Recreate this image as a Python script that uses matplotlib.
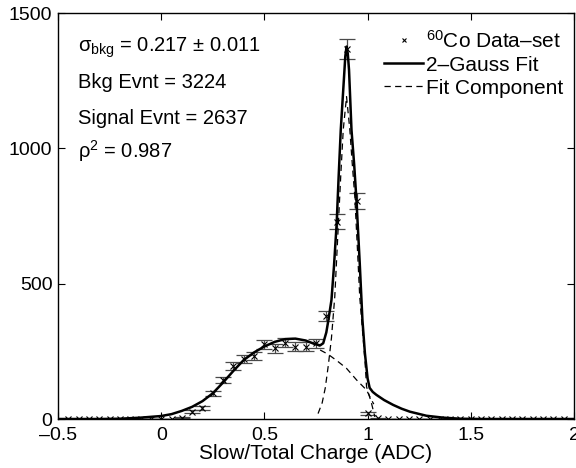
import numpy as np
import matplotlib
matplotlib.use('Agg')
import matplotlib.pyplot as plt
from matplotlib.lines import Line2D

plt.rcParams['font.family'] = ['Liberation Sans', 'DejaVu Sans']
plt.rcParams['mathtext.fontset'] = 'custom'
plt.rcParams['mathtext.rm'] = 'Liberation Sans'
plt.rcParams['mathtext.it'] = 'Liberation Sans:italic'
plt.rcParams['mathtext.bf'] = 'Liberation Sans:bold'

# histogram of the 60Co data set (bin centres every 0.05)
bin_centres = np.round(np.arange(-0.45, 1.951, 0.05), 3)
counts = [0, 0, 0, 0, 0, 0, 0, 0, 0, 0, 0,
          5, 27, 40, 95, 144, 196, 220, 233, 277, 261,
          281, 267, 267, 280, 380, 729, 1367, 805, 21, 3,
          0, 0, 0, 0, 0, 0, 0, 0, 0, 0, 0, 0, 0, 0, 0, 0, 0, 0]

# 2-Gauss fit
fit_x = [-0.5, -0.3, -0.2, -0.1, 0.0, 0.05, 0.1, 0.15, 0.2, 0.25, 0.3, 0.35,
         0.4, 0.45, 0.5, 0.55, 0.6, 0.65, 0.7, 0.74, 0.77, 0.785, 0.8, 0.81,
         0.825, 0.837, 0.85, 0.86, 0.87, 0.885, 0.892, 0.898, 0.904, 0.91,
         0.922, 0.935, 0.946, 0.962, 0.975, 0.987, 1.0, 1.01, 1.025, 1.043,
         1.08, 1.124, 1.165, 1.205, 1.285, 1.366, 1.45, 1.55, 2.0]
fit_y = [0, 0, 1, 5, 11, 18, 30, 45, 66, 95, 135, 178,
         218, 246, 268, 285, 295, 297, 290, 278, 272, 280, 320, 365,
         440, 563, 720, 900, 1068, 1253, 1340, 1376, 1350, 1290,
         1068, 940, 809, 575, 366, 243, 150, 115, 100, 89,
         70, 52, 38, 27, 12, 5, 1, 0, 0]

# signal component
sig_x = [0.76, 0.78, 0.795, 0.81, 0.825, 0.841, 0.857, 0.87, 0.882, 0.898,
         0.914, 0.925, 0.938, 0.95, 0.962, 0.975, 0.987, 0.995, 1.019, 1.035]
sig_y = [20, 60, 115, 200, 300, 452, 698, 900, 1068, 1191,
         1068, 950, 821, 640, 450, 330, 218, 119, 58, 8]

# background component
bkg_x = [0.77, 0.809, 0.857, 0.898, 0.947, 0.995, 1.019, 1.03]
bkg_y = [255, 239, 212, 187, 144, 107, 70, 55]

fig = plt.figure(figsize=(5.76, 4.68), dpi=100)
ax = fig.add_axes([0.1007, 0.1047, 0.8958, 0.8675])

errs = np.sqrt(counts)
ax.errorbar(bin_centres, counts, yerr=errs, fmt='none', ecolor='#4a4a4a',
            elinewidth=0.9, capsize=6, capthick=0.9, zorder=2)
ax.plot(bin_centres, counts, 'x', color='black', ms=4, mew=0.8, zorder=4)
ax.plot(fit_x, fit_y, '-', color='black', lw=1.8, zorder=3)
ax.plot(sig_x, sig_y, '--', color='black', lw=0.9, dashes=(5, 3.5), zorder=3)
ax.plot(bkg_x, bkg_y, '--', color='black', lw=0.9, dashes=(5, 3.5), zorder=3)

ax.set_xlim(-0.5, 2)
ax.set_ylim(0, 1500)
ax.set_xticks([-0.5, 0, 0.5, 1, 1.5, 2])
ax.set_xticklabels(['\u20130.5', '0', '0.5', '1', '1.5', '2'])
ax.set_yticks([0, 500, 1000, 1500])
ax.tick_params(direction='in', top=True, right=True, length=5, width=0.8,
               labelsize=14)
ax.tick_params(axis='x', pad=6)
ax.tick_params(axis='y', pad=4)
for s in ax.spines.values():
    s.set_linewidth(1.0)
ax.set_xlabel('Slow/Total Charge (ADC)', fontsize=15, labelpad=0)

txt_size = 14.5
ax.text(0.039, 0.904, '\u03c3$_{\\rm bkg}$ = 0.217 \u00b1 0.011',
        transform=ax.transAxes, fontsize=txt_size, va='baseline')
ax.text(0.039, 0.815, 'Bkg Evnt = 3224', transform=ax.transAxes,
        fontsize=txt_size, va='baseline')
ax.text(0.039, 0.727, 'Signal Evnt = 2637', transform=ax.transAxes,
        fontsize=txt_size, va='baseline')
ax.text(0.039, 0.643, '\u03c1$^2$ = 0.987', transform=ax.transAxes,
        fontsize=txt_size, va='baseline')

handles = [Line2D([], [], ls='none', marker='x', color='black', ms=3.5, mew=0.8),
           Line2D([], [], color='black', lw=1.8),
           Line2D([], [], color='black', lw=0.9, ls='--', dashes=(5, 3.5))]
labels = ['$^{60}$Co Data\u2013set', '2\u2013Gauss Fit', 'Fit Component']
ax.legend(handles, labels, loc='upper right', frameon=False, fontsize=15,
          handlelength=1.9, handletextpad=0.12, labelspacing=0.2,
          borderaxespad=0.0, bbox_to_anchor=(0.995, 0.98))

fig.savefig('out.png', dpi=100)
